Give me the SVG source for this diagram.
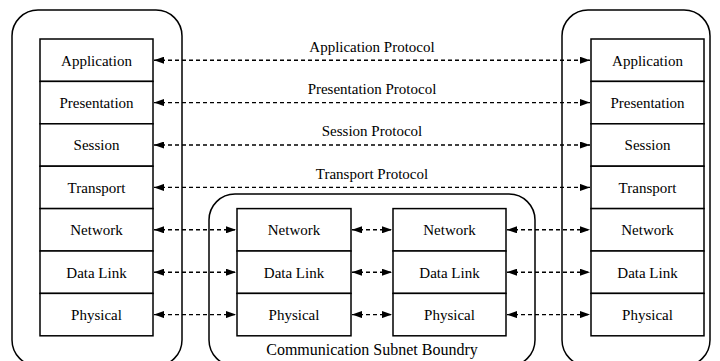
<svg xmlns="http://www.w3.org/2000/svg" width="720" height="361" viewBox="0 0 720 361">
  <defs>
    <marker id="arrow" viewBox="0 0 10 7" refX="10" refY="3.5" markerWidth="10" markerHeight="7" markerUnits="userSpaceOnUse" orient="auto-start-reverse">
      <path d="M0,0 L10,3.5 L0,7 Z" fill="#000"/>
    </marker>
    <style>
      .frame { fill: none; stroke: #000; stroke-width: 1.5; }
      .layer { fill: #fff; stroke: #000; stroke-width: 1.5; }
      .lbl { font-size: 15px; fill: #000; text-anchor: middle; }
      .caption { font-size: 16px; }
      .link { fill: none; stroke: #000; stroke-width: 1.4; stroke-dasharray: 4 3; marker-start: url(#arrow); marker-end: url(#arrow); }
    </style>
  </defs>
  <rect width="720" height="361" fill="#fff"/>

  <g font-family="'Liberation Serif', 'DejaVu Serif', 'Times New Roman', serif">
  <!-- host and subnet boundaries -->
  <g id="host-left-boundary">
    <rect class="frame" x="12" y="10" width="170" height="356" rx="26"/>
  </g>
  <g id="host-right-boundary">
    <rect class="frame" x="562" y="10" width="148" height="356" rx="26"/>
  </g>
  <g id="subnet-boundary">
    <rect class="frame" x="209" y="194" width="326" height="172" rx="26"/>
    <text class="lbl caption" x="372" y="355">Communication Subnet Boundry</text>
  </g>

  <!-- left host stack -->
  <g id="left-application"><rect class="layer" x="40" y="39" width="113" height="42.4"/><text class="lbl" x="96.5" y="65.5">Application</text></g>
  <g id="left-presentation"><rect class="layer" x="40" y="81.4" width="113" height="42.4"/><text class="lbl" x="96.5" y="107.9">Presentation</text></g>
  <g id="left-session"><rect class="layer" x="40" y="123.8" width="113" height="42.4"/><text class="lbl" x="96.5" y="150.3">Session</text></g>
  <g id="left-transport"><rect class="layer" x="40" y="166.2" width="113" height="42.4"/><text class="lbl" x="96.5" y="192.7">Transport</text></g>
  <g id="left-network"><rect class="layer" x="40" y="208.6" width="113" height="42.4"/><text class="lbl" x="96.5" y="235.1">Network</text></g>
  <g id="left-datalink"><rect class="layer" x="40" y="251" width="113" height="42.4"/><text class="lbl" x="96.5" y="277.5">Data Link</text></g>
  <g id="left-physical"><rect class="layer" x="40" y="293.4" width="113" height="42.4"/><text class="lbl" x="96.5" y="319.9">Physical</text></g>

  <!-- right host stack -->
  <g id="right-application"><rect class="layer" x="591" y="39" width="113" height="42.4"/><text class="lbl" x="647.5" y="65.5">Application</text></g>
  <g id="right-presentation"><rect class="layer" x="591" y="81.4" width="113" height="42.4"/><text class="lbl" x="647.5" y="107.9">Presentation</text></g>
  <g id="right-session"><rect class="layer" x="591" y="123.8" width="113" height="42.4"/><text class="lbl" x="647.5" y="150.3">Session</text></g>
  <g id="right-transport"><rect class="layer" x="591" y="166.2" width="113" height="42.4"/><text class="lbl" x="647.5" y="192.7">Transport</text></g>
  <g id="right-network"><rect class="layer" x="591" y="208.6" width="113" height="42.4"/><text class="lbl" x="647.5" y="235.1">Network</text></g>
  <g id="right-datalink"><rect class="layer" x="591" y="251" width="113" height="42.4"/><text class="lbl" x="647.5" y="277.5">Data Link</text></g>
  <g id="right-physical"><rect class="layer" x="591" y="293.4" width="113" height="42.4"/><text class="lbl" x="647.5" y="319.9">Physical</text></g>

  <!-- first subnet router -->
  <g id="router1-network"><rect class="layer" x="237" y="208.6" width="114" height="42.4"/><text class="lbl" x="294" y="235.1">Network</text></g>
  <g id="router1-datalink"><rect class="layer" x="237" y="251" width="114" height="42.4"/><text class="lbl" x="294" y="277.5">Data Link</text></g>
  <g id="router1-physical"><rect class="layer" x="237" y="293.4" width="114" height="42.4"/><text class="lbl" x="294" y="319.9">Physical</text></g>

  <!-- second subnet router -->
  <g id="router2-network"><rect class="layer" x="393" y="208.6" width="113" height="42.4"/><text class="lbl" x="449.5" y="235.1">Network</text></g>
  <g id="router2-datalink"><rect class="layer" x="393" y="251" width="113" height="42.4"/><text class="lbl" x="449.5" y="277.5">Data Link</text></g>
  <g id="router2-physical"><rect class="layer" x="393" y="293.4" width="113" height="42.4"/><text class="lbl" x="449.5" y="319.9">Physical</text></g>

  <!-- peer protocol connectors -->
  <g id="connectors">
    <line class="link" x1="154" y1="60.2" x2="590" y2="60.2"/>
    <line class="link" x1="154" y1="102.6" x2="590" y2="102.6"/>
    <line class="link" x1="154" y1="145" x2="590" y2="145"/>
    <line class="link" x1="154" y1="187.4" x2="590" y2="187.4"/>

    <line class="link" x1="154" y1="229.8" x2="236" y2="229.8"/>
    <line class="link" x1="352" y1="229.8" x2="392" y2="229.8"/>
    <line class="link" x1="507" y1="229.8" x2="590" y2="229.8"/>

    <line class="link" x1="154" y1="272.2" x2="236" y2="272.2"/>
    <line class="link" x1="352" y1="272.2" x2="392" y2="272.2"/>
    <line class="link" x1="507" y1="272.2" x2="590" y2="272.2"/>

    <line class="link" x1="154" y1="314.6" x2="236" y2="314.6"/>
    <line class="link" x1="352" y1="314.6" x2="392" y2="314.6"/>
    <line class="link" x1="507" y1="314.6" x2="590" y2="314.6"/>
  </g>
  <g id="connector-labels">
    <text class="lbl" x="372" y="51.5">Application Protocol</text>
    <text class="lbl" x="372" y="93.9">Presentation Protocol</text>
    <text class="lbl" x="372" y="136.3">Session Protocol</text>
    <text class="lbl" x="372" y="178.5">Transport Protocol</text>
  </g>
  </g>
</svg>
